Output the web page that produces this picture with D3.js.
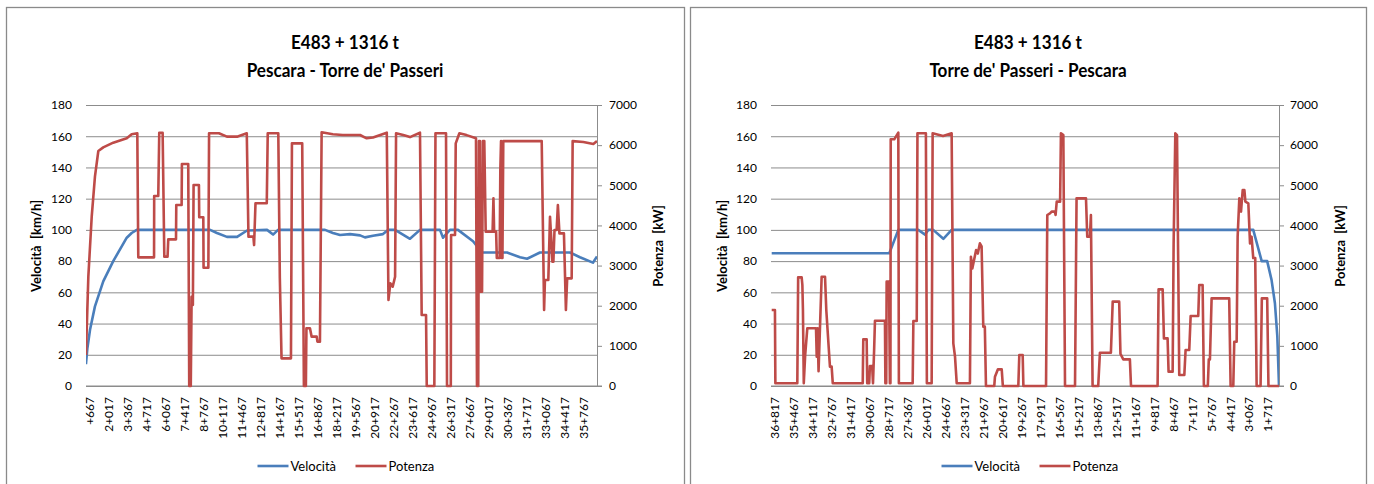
<!DOCTYPE html>
<html>
<head>
<meta charset="utf-8">
<script src="https://cdn.jsdelivr.net/npm/d3@7"></script>
<style>
    body { margin: 0; background: #fff; }
    text { font-family: Lato, "Open Sans", sans-serif; fill: #000; }
</style>
</head>
<body>
<svg id="chart" width="1374" height="484"></svg>
<script>
// Tick labels (progressive km) for both charts
var goLabels = ["+667", "2+017", "3+367", "4+717", "6+067", "7+417", "8+767", "10+117", "11+467",
    "12+817", "14+167", "15+517", "16+867", "18+217", "19+567", "20+917", "22+267", "23+617",
    "24+967", "26+317", "27+667", "29+017", "30+367", "31+717", "33+067", "34+417", "35+767"];
var retLabels = ["36+817", "35+467", "34+117", "32+767", "31+417", "30+067", "28+717", "27+367", "26+017",
    "24+667", "23+317", "21+967", "20+617", "19+267", "17+917", "16+567", "15+217", "13+867",
    "12+517", "11+167", "9+817", "8+467", "7+117", "5+767", "4+417", "3+067", "1+717"];

var speedTicks = [0, 20, 40, 60, 80, 100, 120, 140, 160, 180];
var powerTicks = [0, 1000, 2000, 3000, 4000, 5000, 6000, 7000];

// Pescara - Torre de' Passeri : speed [km/h] vs km
var goSpeedKm = [0.45, 0.55, 0.74, 1.09, 1.68, 2.39, 3.35, 3.70, 4.06, 9.27, 9.76, 10.47, 11.19, 11.9,
    13.32, 13.75, 14.1, 17.44, 18.0, 18.51, 19.22, 19.93, 20.28, 20.85, 21.56, 21.92, 22.42, 23.48,
    24.19, 25.61, 25.83, 26.32, 26.89, 27.96, 28.24, 28.60, 30.38, 31.30, 31.80, 32.72, 34.85, 35.56,
    36.48, 36.77];
var goSpeed = [14, 24, 36, 51, 67, 80, 95, 98, 100, 100, 98, 95.5, 95.5, 99.6,
    100, 97, 100, 100, 98, 96.7, 97.3, 96.5, 95.2, 96.3, 97.3, 100, 100, 94.3,
    100, 100, 95, 100, 100, 92.7, 89.6, 85.5, 85.5, 82.5, 81.5, 85.5, 85.5, 82.5,
    79, 83];

// Pescara - Torre de' Passeri : power [kW] vs km
var goPowerKm = [0.45, 0.62, 0.86, 1.09, 1.33, 1.68, 2.39, 3.35, 3.70, 4.10, 4.17, 5.29, 5.30, 5.59,
    5.66, 5.90, 6.02, 6.25, 6.30, 6.85, 6.87, 7.25, 7.27, 7.72, 7.79, 7.90, 7.96, 8.05, 8.10, 8.48,
    8.50, 8.79, 8.81, 9.15, 9.20, 9.90, 10.47, 11.19, 11.88, 12.0, 12.35, 12.40, 12.50, 13.30, 13.37,
    14.12, 14.23, 14.35, 15.02, 15.09, 15.82, 15.94, 16.08, 16.12, 16.37, 16.49, 16.85, 16.90, 17.08,
    17.2, 18.0, 18.7, 19.93, 20.4, 20.85, 21.83, 21.95, 22.08, 22.25, 22.42, 22.49, 23.0, 23.48,
    24.19, 24.31, 24.62, 24.67, 25.21, 25.29, 26.04, 26.11, 26.38, 26.40, 26.68, 26.73, 26.99, 27.5,
    28.17, 28.24, 28.33, 28.38, 28.45, 28.50, 28.60, 28.66, 28.76, 28.86, 29.35, 29.41, 29.46, 29.60,
    29.65, 29.85, 29.90, 29.95, 30.0, 30.05, 30.11, 32.84, 33.01, 33.07, 33.31, 33.43, 33.55, 33.60,
    33.67, 33.75, 33.90, 33.99, 34.10, 34.42, 34.56, 34.65, 34.97, 35.04, 35.8, 36.51, 36.77];
var goPower = [772, 2723, 4218, 5214, 5854, 5945, 6061, 6170, 6270, 6295, 3205, 3205, 4733, 4733,
    6310, 6310, 3222, 3222, 3653, 3653, 4509, 4509, 5530, 5530, 0, 0, 2225, 2017, 5007, 5007,
    4202, 4202, 2947, 2947, 6295, 6295, 6211, 6211, 6295, 3720, 3720, 3512, 4551, 4551, 6295,
    6295, 2682, 689, 689, 6045, 6045, 0, 0, 1437, 1437, 1229, 1229, 1104, 1104,
    6320, 6270, 6253, 6253, 6170, 6190, 6310, 2142, 2557, 2474, 2723, 6295, 6250, 6200,
    6310, 1769, 1769, 0, 0, 6295, 6295, 0, 0, 3761, 3761, 6045, 6295, 6250,
    6170, 0, 0, 6100, 6100, 2350, 2350, 6100, 6100, 3845, 3845, 4675, 3845, 3845,
    3188, 3188, 5390, 6100, 3188, 3188, 6100, 6100, 1893, 2640, 2640, 4218, 3471, 3097,
    3097, 3886, 3886, 4509, 3803, 3803, 1893, 2682, 2682, 6100, 6080, 6030, 6100];

// Torre de' Passeri - Pescara : speed [km/h] vs km
var retSpeedKm = [36.98, 28.62, 27.98, 26.56, 26.08, 25.85, 25.5, 24.78, 24.19, 2.75, 2.15, 1.76,
    1.45, 1.21, 1.04, 0.92];
var retSpeed = [85, 85, 100, 100, 97, 100, 100, 94.3, 100, 100, 80, 80,
    68, 53, 32, 0];

// Torre de' Passeri - Pescara : power [kW] vs km
var retPowerKm = [36.98, 36.75, 36.72, 35.16, 35.10, 34.85, 34.80, 34.76, 34.70, 34.60, 34.45, 33.83,
    33.78, 33.72, 33.65, 33.43, 33.19, 33.10, 32.84, 32.72, 32.64, 30.51, 30.47, 30.23, 30.19, 30.05,
    30.0, 29.84, 29.78, 29.70, 29.64, 28.93, 28.90, 28.84, 28.81, 28.64, 28.58, 28.54, 28.52, 28.27,
    27.98, 27.94, 26.96, 26.91, 26.67, 26.62, 26.02, 25.95, 25.61, 25.54, 24.8, 24.19, 24.07, 23.95,
    23.83, 22.89, 22.82, 22.72, 22.45, 22.33, 22.18, 22.06, 21.94, 21.83, 21.75, 21.16, 21.11, 20.90,
    20.63, 20.55, 19.45, 19.38, 19.14, 19.09, 17.48, 17.39, 17.20, 17.08, 16.85, 16.80, 16.72, 16.48,
    16.42, 16.25, 16.13, 15.42, 15.31, 14.64, 14.55, 14.36, 14.29, 14.17, 13.77, 13.65, 12.87, 12.74,
    12.28, 12.19, 11.99, 11.52, 11.44, 9.55, 9.48, 9.19, 9.10, 8.84, 8.77, 8.48, 8.41, 8.29, 8.17,
    8.01, 7.65, 7.56, 7.30, 7.20, 6.66, 6.59, 6.35, 6.26, 5.98, 5.91, 5.83, 5.71, 4.46, 4.36, 4.17,
    4.10, 3.93, 3.86, 3.74, 3.62, 3.50, 3.38, 3.31, 3.10, 2.98, 2.87, 2.75, 2.61, 2.51, 2.23, 2.14,
    1.76, 1.67, 0.92];
var retPower = [1893, 1893, 70, 70, 2707, 2707, 2516, 1893, 70, 772, 1437, 1437,
    730, 1437, 370, 2723, 2723, 1893, 482, 482, 70, 70, 1162, 1162, 70, 70,
    500, 500, 70, 897, 1627, 1627, 70, 70, 2599, 2599, 70, 70, 6145, 6145,
    6310, 70, 70, 1619, 1619, 6295, 6295, 70, 70, 6295, 6230, 6295, 1063, 730,
    70, 70, 3221, 2930, 3387, 3300, 3553, 3480, 1478, 1478, 0, 0, 232, 415,
    415, 0, 0, 772, 772, 0, 0, 4260, 4300, 4343, 4343, 4260, 4592, 4592,
    6295, 6250, 0, 0, 4675, 4675, 3720, 3720, 4260, 0, 0, 830, 830, 2101,
    2101, 800, 664, 664, 0, 0, 2408, 2408, 1187, 1187, 357, 357, 3554, 6295, 6250,
    275, 275, 897, 897, 1744, 1744, 2516, 2516, 0, 0, 664, 664, 2184, 2184, 0, 0,
    1104, 1104, 3720, 4675, 4343, 4882, 4882, 4592, 4551, 3554, 3720, 3188, 3188, 0, 0, 2184,
    2184, 0, 0];

var blue = "#4a7ebb";
var red = "#be4b48";
var gridColor = "#8c8c8c";

var svg = d3.select("#chart");

// Draw one panel (frame, title, axes, lines, legend)
function drawChart(opt) {
    var fx = opt.frameX;
    var g = svg.append("g");

    // Outer frame
    g.append("rect")
        .attr("x", fx + 0.5).attr("y", 7.5)
        .attr("width", opt.frameW).attr("height", 490)
        .attr("fill", "#fff")
        .attr("stroke", "#8a8a8a")
        .attr("stroke-width", 1.3);

    var left = opt.plotLeft, right = opt.plotRight, top = 105, bottom = 386;

    var x = d3.scaleLinear().domain(opt.kmDomain).range([left, right]);
    var yV = d3.scaleLinear().domain([0, 180]).range([bottom, top]);
    var yP = d3.scaleLinear().domain([0, 7000]).range([bottom, top]);

    // Title (two lines, bold, slightly condensed)
    var cx = fx + opt.frameW / 2;
    [["E483 + 1316 t", 49], [opt.title, 77]].forEach(t => {
        g.append("text")
            .attr("transform", `translate(${cx},${t[1]}) scale(0.9,1)`)
            .attr("text-anchor", "middle")
            .style("font-size", "19px").style("font-weight", "bold")
            .text(t[0]);
    });

    // Horizontal gridlines + primary axis labels
    g.append("g")
        .attr("transform", `translate(${left},0)`)
        .call(d3.axisLeft(yV).tickValues(speedTicks).tickSize(-(right - left)))
        .call(a => a.select(".domain").remove())
        .call(a => a.selectAll("line").attr("stroke", gridColor))
        .call(a => a.selectAll("text").attr("x", opt.leftLabelX - left)
            .style("font-size", "12px").style("font-family", "Lato"));

    // Secondary axis on the right
    g.append("g")
        .attr("transform", `translate(${right},0)`)
        .call(d3.axisRight(yP).tickValues(powerTicks).tickFormat(d3.format("d")).tickSize(5).tickSizeOuter(0))
        .call(a => a.select(".domain").attr("stroke", gridColor))
        .call(a => a.selectAll("line").attr("stroke", gridColor))
        .call(a => a.selectAll("text").attr("x", opt.rightLabelX - right).attr("text-anchor", "start")
            .style("font-size", "12px").style("font-family", "Lato"));

    // Category axis at the bottom
    var labels = opt.labels;
    g.append("g")
        .attr("transform", `translate(0,${bottom})`)
        .call(d3.axisBottom(x)
            .tickValues(labels.map(s => parseFloat(s.replace("+", "."))))
            .tickFormat((d, i) => labels[i])
            .tickSize(0).tickSizeOuter(0))
        .call(a => a.select(".domain").attr("stroke", gridColor)
            .attr("d", `M${left},0H${right + 5}`))
        .call(a => a.selectAll("text")
            .attr("transform", "rotate(-90)")
            .attr("x", -11).attr("y", 0).attr("dy", "0.35em")
            .attr("text-anchor", "end")
            .style("font-size", "12px").style("font-family", "Lato"));

    // Axis titles
    g.append("text")
        .attr("transform", `translate(${opt.leftTitleX},246) rotate(-90)`)
        .attr("text-anchor", "middle").attr("dy", "0.35em")
        .style("font-size", "13px").style("font-weight", "bold")
        .text("Velocità\u00a0 [km/h]");
    g.append("text")
        .attr("transform", `translate(${opt.rightTitleX},246) rotate(-90)`)
        .attr("text-anchor", "middle").attr("dy", "0.35em")
        .style("font-size", "13px").style("font-weight", "bold")
        .text("Potenza\u00a0 [kW]");

    // Data lines
    var clipId = "clip" + fx;
    svg.append("clipPath").attr("id", clipId)
        .append("rect").attr("x", left).attr("y", top - 5)
        .attr("width", right - left).attr("height", bottom - top + 7);

    var speedLine = d3.line().x(d => x(d[0])).y(d => yV(d[1]));
    var powerLine = d3.line().x(d => x(d[0])).y(d => yP(d[1]));

    g.append("path")
        .datum(d3.zip(opt.speedKm, opt.speed))
        .attr("clip-path", `url(#${clipId})`)
        .attr("fill", "none").attr("stroke", blue)
        .attr("stroke-width", 2.6).attr("stroke-linejoin", "round")
        .attr("d", speedLine);

    g.append("path")
        .datum(d3.zip(opt.powerKm, opt.power))
        .attr("clip-path", `url(#${clipId})`)
        .attr("fill", "none").attr("stroke", red)
        .attr("stroke-width", 2.6).attr("stroke-linejoin", "round")
        .attr("d", powerLine);

    // Legend
    var lx = fx + 251.5;
    var leg = g.append("g").attr("transform", `translate(${lx},466)`);
    leg.append("line").attr("x1", 0).attr("x2", 31).attr("stroke", blue).attr("stroke-width", 2.6);
    leg.append("text").attr("x", 33).attr("dy", "0.35em").style("font-size", "13px").text("Velocità");
    leg.append("line").attr("x1", 98).attr("x2", 129).attr("stroke", red).attr("stroke-width", 2.6);
    leg.append("text").attr("x", 131).attr("dy", "0.35em").style("font-size", "13px").text("Potenza");
}

drawChart({
    frameX: 6, frameW: 678,
    plotLeft: 86, plotRight: 597,
    kmDomain: [0.454, 36.77],
    labels: goLabels,
    title: "Pescara - Torre de' Passeri",
    leftLabelX: 72, rightLabelX: 609, leftTitleX: 36, rightTitleX: 658,
    speedKm: goSpeedKm, speed: goSpeed,
    powerKm: goPowerKm, power: goPower
});

drawChart({
    frameX: 690, frameW: 676,
    plotLeft: 771, plotRight: 1279,
    kmDomain: [37.03, 0.92],
    labels: retLabels,
    title: "Torre de' Passeri - Pescara",
    leftLabelX: 757, rightLabelX: 1290, leftTitleX: 722, rightTitleX: 1340,
    speedKm: retSpeedKm, speed: retSpeed,
    powerKm: retPowerKm, power: retPower
});
</script>
</body>
</html>
